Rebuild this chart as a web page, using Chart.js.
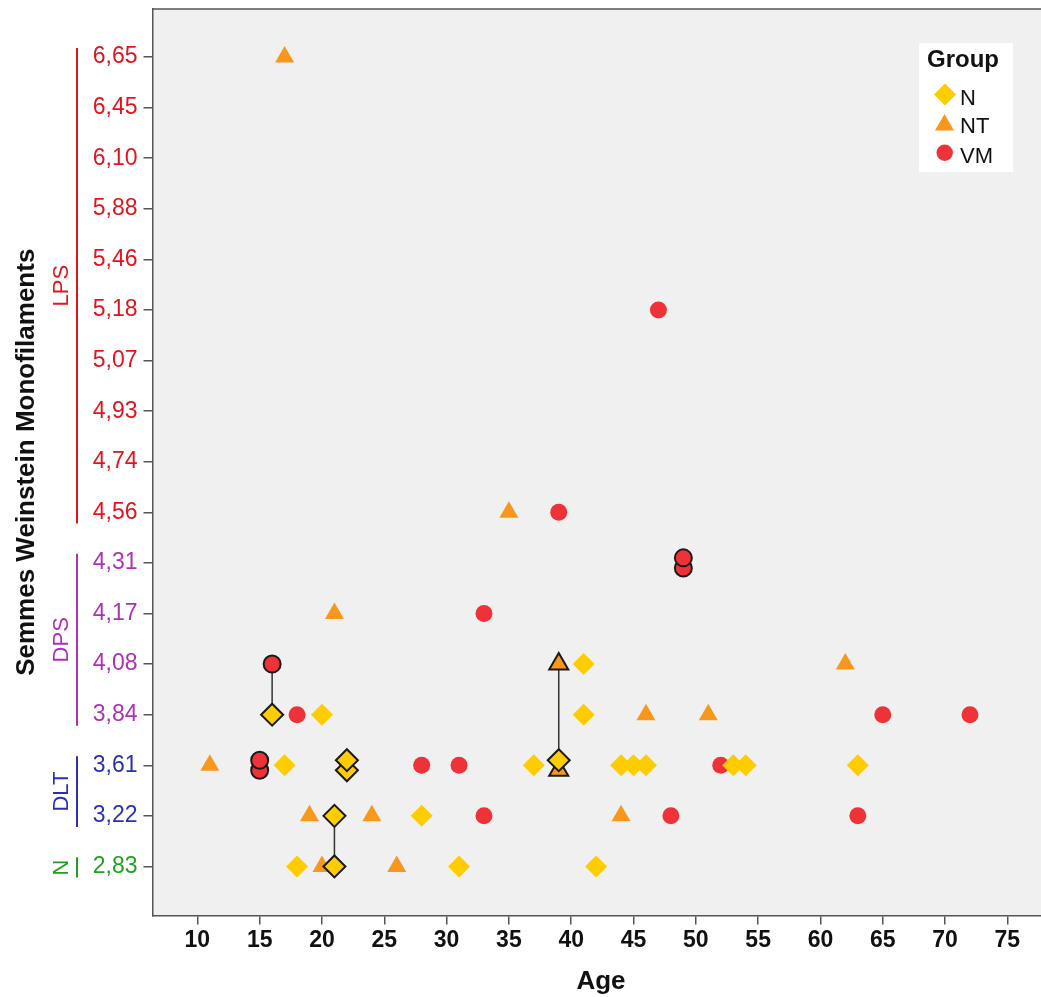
<!DOCTYPE html>
<html><head><meta charset="utf-8">
<script src="https://cdn.jsdelivr.net/npm/chart.js@4.4.1/dist/chart.umd.min.js"></script>
<style>html,body{margin:0;padding:0;background:#fff;overflow:hidden}
#wrap{position:relative;width:1041px;height:997px}</style>
</head><body><div id="wrap"><canvas id="c" width="1041" height="997"></canvas></div>
<script>
// ---- data ----
const levels = [2.83,3.22,3.61,3.84,4.08,4.17,4.31,4.56,4.74,4.93,5.07,5.18,5.46,5.88,6.10,6.45,6.65];
const levelLabels = ['2,83','3,22','3,61','3,84','4,08','4,17','4,31','4,56','4,74','4,93','5,07','5,18','5,46','5,88','6,10','6,45','6,65'];
const ageTicks = [10,15,20,25,30,35,40,45,50,55,60,65,70,75];

const nAge   = [20,41,41,17,37,44,45,46,53,54,63,28,18,31,42];
const nLevel = [3.84,3.84,4.08,3.61,3.61,3.61,3.61,3.61,3.61,3.61,3.61,3.22,2.83,2.83,2.83];
const ntAge   = [17,35,21,62,46,51,11,19,24,44,20,26];
const ntLevel = [6.65,4.56,4.17,4.08,3.84,3.84,3.61,3.22,3.22,3.22,2.83,2.83];
const vmAge   = [47,39,33,18,65,72,28,31,52,33,48,63];
const vmLevel = [5.18,4.56,4.17,3.84,3.84,3.84,3.61,3.61,3.61,3.22,3.22,3.22];

// repeated (outlined) measurements
const nPairAge   = [16,22,22,21,21,39];
const nPairLevel = [3.84,3.61,3.61,3.22,2.83,3.61];
const ntPairAge   = [39,39];
const ntPairLevel = [4.08,3.61];
const vmPairAge   = [16,49,49,15,15];
const vmPairLevel = [4.08,4.31,4.31,3.61,3.61];

// connecting lines
const linkAge  = [16,21,39];
const linkFrom = [3.84,2.83,3.61];
const linkTo   = [4.08,3.22,4.08];

const bandLabels = ['N','DLT','DPS','LPS'];
const bandLow  = [2.83,3.22,3.84,4.56];
const bandHigh = [2.83,3.61,4.31,6.65];

// ---- styles ----
const COLORS = {N:'#ffcc00', NT:'#f7981d', VM:'#ee3238'};
const bandColors = ['#22a022','#2a30b5','#b030b5','#e3141c'];
const FONT = 'Liberation Sans, Arial, Helvetica, sans-serif';

function idx(level){ return levels.indexOf(level); }
function bandOf(i){ const v = levels[i]; for (let b=0;b<bandLow.length;b++){ if (v>=bandLow[b]-1e-9 && v<=bandHigh[b]+1e-9) return b; } return -1; }
function pts(ages, lv){ return ages.map((a,i)=>({x:a, y:idx(lv[i])})); }

// spread coincident outlined points slightly so both remain visible
const pairGroups = {NT:[ntPairAge,ntPairLevel], N:[nPairAge,nPairLevel], VM:[vmPairAge,vmPairLevel]};
const counts = {}, seen = {}, pairPts = {};
['NT','N','VM'].forEach(g=>{ const [a,l]=pairGroups[g]; a.forEach((x,i)=>{ const k=x+'|'+l[i]; counts[k]=(counts[k]||0)+1; }); });
['NT','N','VM'].forEach(g=>{ const [a,l]=pairGroups[g]; pairPts[g]=a.map((x,i)=>{ const k=x+'|'+l[i]; const s=seen[k]=(seen[k]||0)+1; const off = counts[k]>1 ? (s===1?-0.1:0.1) : 0; return {x:x, y:idx(l[i])+off}; }); });

const linkSets = linkAge.map((a,i)=>({
  type:'line', data:[{x:a,y:idx(linkFrom[i])},{x:a,y:idx(linkTo[i])}],
  borderColor:'#333', borderWidth:1.5, pointRadius:0, showLine:true, fill:false, order:1
}));

const OUT = '#1a1a1a';
const datasets = [
  ...linkSets,
  {label:'N',  data:pairPts.N,  pointStyle:'rectRot',  pointRadius:11, backgroundColor:COLORS.N,  borderColor:OUT, borderWidth:2, order:0},
  {label:'NT', data:pairPts.NT, pointStyle:'triangle', pointRadius:11, backgroundColor:COLORS.NT, borderColor:OUT, borderWidth:2, order:0},
  {label:'VM', data:pairPts.VM, pointStyle:'circle',   pointRadius:8.5, backgroundColor:COLORS.VM, borderColor:OUT, borderWidth:2, order:0},
  {label:'N',  data:pts(nAge,nLevel),   pointStyle:'rectRot',  pointRadius:11, backgroundColor:COLORS.N,  borderWidth:0, order:0},
  {label:'NT', data:pts(ntAge,ntLevel), pointStyle:'triangle', pointRadius:11, backgroundColor:COLORS.NT, borderWidth:0, order:0},
  {label:'VM', data:pts(vmAge,vmLevel), pointStyle:'circle',   pointRadius:8.5, backgroundColor:COLORS.VM, borderWidth:0, order:0}
];

function marker(ctx, style, x, y, r, color){
  ctx.save(); ctx.fillStyle = color; ctx.beginPath();
  if (style==='rectRot'){ ctx.moveTo(x-r,y); ctx.lineTo(x,y-r); ctx.lineTo(x+r,y); ctx.lineTo(x,y+r); ctx.closePath(); }
  else if (style==='triangle'){ const c=Math.cos(Math.PI/6)*r, s=Math.sin(Math.PI/6)*r; ctx.moveTo(x,y-r); ctx.lineTo(x+c,y+s); ctx.lineTo(x-c,y+s); ctx.closePath(); }
  else { ctx.arc(x,y,r,0,Math.PI*2); }
  ctx.fill(); ctx.restore();
}

function noPad(s){ s.paddingTop=0; s.paddingBottom=0; s.paddingLeft=0; s.paddingRight=0; }

const deco = {
  id:'deco',
  beforeDraw(chart){
    const {ctx, chartArea:a} = chart;
    ctx.save(); ctx.fillStyle='#fff'; ctx.fillRect(0,0,chart.width,chart.height);
    ctx.fillStyle='#f0f0f0'; ctx.fillRect(a.left,a.top,a.right-a.left,a.bottom-a.top); ctx.restore();
  },
  afterDraw(chart){
    const {ctx, chartArea:a} = chart; const ys = chart.scales.y;
    ctx.save();
    // top border
    ctx.strokeStyle='#555'; ctx.lineWidth=1.5; ctx.beginPath(); ctx.moveTo(a.left,a.top); ctx.lineTo(a.right,a.top); ctx.stroke();
    // group brackets
    for (let b=0;b<bandLabels.length;b++){
      const y1 = ys.getPixelForValue(idx(bandHigh[b])+0.18), y2 = ys.getPixelForValue(idx(bandLow[b])-0.22);
      ctx.strokeStyle=bandColors[b]; ctx.lineWidth=2; ctx.beginPath(); ctx.moveTo(77,y1); ctx.lineTo(77,y2); ctx.stroke();
      ctx.save(); ctx.translate(62,(y1+y2)/2); ctx.rotate(-Math.PI/2);
      ctx.fillStyle=bandColors[b]; ctx.font='22px '+FONT; ctx.textAlign='center'; ctx.textBaseline='middle';
      ctx.fillText(bandLabels[b],0,0); ctx.restore();
    }
    // axis titles
    ctx.fillStyle='#111'; ctx.font='bold 26px '+FONT; ctx.textAlign='center';
    ctx.save(); ctx.translate(27,(a.top+a.bottom)/2); ctx.rotate(-Math.PI/2); ctx.textBaseline='middle';
    ctx.fillText('Semmes Weinstein Monofilaments',0,0); ctx.restore();
    ctx.textBaseline='alphabetic'; ctx.fillText('Age',601,989);
    // legend
    ctx.fillStyle='#fff'; ctx.fillRect(919,43,94,129);
    ctx.fillStyle='#111'; ctx.textAlign='left'; ctx.textBaseline='alphabetic';
    ctx.font='bold 24px '+FONT; ctx.fillText('Group',927,67);
    ctx.font='22px '+FONT;
    marker(ctx,'rectRot',945,94.5,11,COLORS.N);
    marker(ctx,'triangle',944.5,125,11,COLORS.NT);
    marker(ctx,'circle',944.7,152.7,8.2,COLORS.VM);
    ctx.fillStyle='#111';
    ctx.fillText('N',960,105); ctx.fillText('NT',960,133); ctx.fillText('VM',960,163);
    ctx.restore();
  }
};

new Chart(document.getElementById('c').getContext('2d'), {
  type:'scatter',
  data:{datasets},
  options:{
    responsive:false, animation:false, devicePixelRatio:1,
    layout:{autoPadding:false, padding:{top:9,left:0,right:0,bottom:0}},
    plugins:{legend:{display:false}, tooltip:{enabled:false}},
    scales:{
      x:{type:'linear', min:6.4, max:77.7,
        afterBuildTicks:s=>{ s.ticks = ageTicks.map(v=>({value:v})); },
        afterFit:s=>{ s.height = 81.5; noPad(s); },
        grid:{drawOnChartArea:false, tickLength:9, color:'#555', lineWidth:1.5},
        border:{color:'#555', width:1.5},
        ticks:{font:{family:FONT,size:23,weight:'bold'}, color:'#111', padding:2, maxRotation:0, autoSkip:false}
      },
      y:{type:'linear', min:-0.97, max:16.95,
        afterBuildTicks:s=>{ s.ticks = levels.map((_,i)=>({value:i})); },
        afterFit:s=>{ s.width = 152.5; noPad(s); },
        grid:{drawOnChartArea:false, tickLength:9, color:'#555', lineWidth:1.5},
        border:{color:'#555', width:1.5},
        ticks:{font:{family:FONT,size:23}, padding:6, autoSkip:false,
          callback:v=>levelLabels[v] ?? '',
          color:c=>{ const b=bandOf(c.tick.value); return b>=0?bandColors[b]:'#000'; }}
      }
    }
  },
  plugins:[deco]
});
</script></body></html>
